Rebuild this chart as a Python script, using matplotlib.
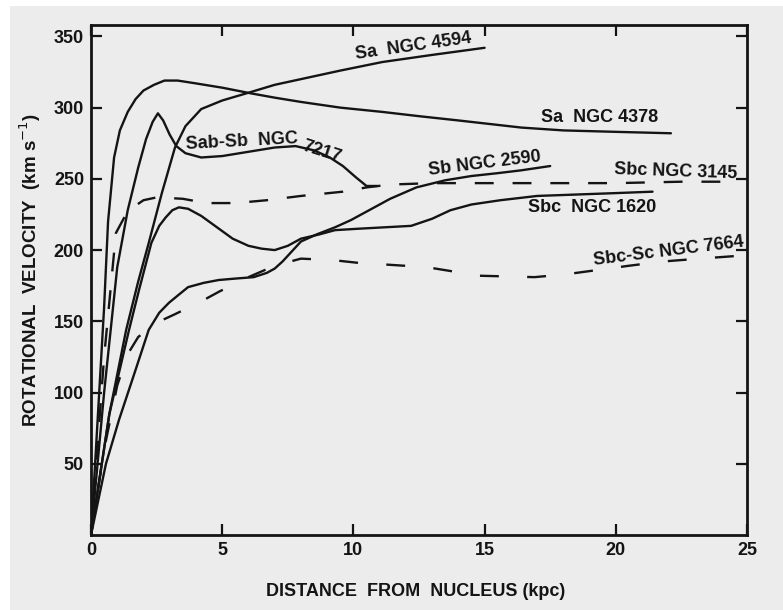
import matplotlib
matplotlib.use('Agg')
import matplotlib.pyplot as plt
from matplotlib.patches import Rectangle

# Rotation curves: radius (kpc) vs rotational velocity (km/s)
r_4378 = [0, 0.25, 0.5, 0.65, 0.88, 1.1, 1.4, 1.7, 2.0, 2.4, 2.8, 3.3, 4.0, 5.0, 6.1,
          7.0, 8.0, 9.5, 11.1, 12.5, 14.0, 16.4, 18.0, 20.0, 22.1]
v_4378 = [0, 80, 160, 220, 265, 284, 297, 306, 312, 316, 319, 319, 317, 314, 310,
          307, 304, 300, 297, 294, 291, 286, 284, 283, 282]

r_4594 = [0, 0.7, 1.34, 1.8, 2.2, 2.7, 3.2, 3.6, 4.2, 5.0, 6.1, 7.0, 8.0, 9.5, 11.1, 13.0, 15.0]
v_4594 = [0, 85, 144, 178, 205, 240, 272, 287, 299, 305, 311, 316, 320, 326, 332, 337, 342]

r_7217 = [0, 0.5, 1.0, 1.4, 1.8, 2.1, 2.35, 2.55, 2.75, 3.0, 3.25, 3.6, 4.2, 5.0, 6.0,
          7.0, 7.8, 8.5, 9.1, 9.6, 10.1, 10.5, 10.9]
v_7217 = [0, 100, 188, 228, 258, 278, 290, 296, 291, 281, 273, 268, 265, 266, 269,
          272, 273, 270, 265, 259, 251, 245, 245]

r_3145 = [0, 0.5, 0.95, 1.3, 1.6, 2.0, 2.5, 3.5, 4.4, 5.5, 6.7, 8.0, 9.6, 10.5, 11.4,
          13.0, 15.0, 17.5, 20.0, 22.5, 24.7]
v_3145 = [0, 125, 212, 224, 230, 235, 237, 236, 233, 233, 235, 238, 241, 244, 246,
          247, 247, 247, 247, 248, 248]

r_2590 = [0, 0.57, 1.07, 1.7, 2.2, 2.6, 2.97, 3.3, 3.7, 4.3, 4.87, 5.5, 6.2, 6.7, 7.0,
          7.3, 7.6, 8.0, 8.6, 9.3, 9.9, 10.6, 11.4, 12.4, 13.5, 14.5, 15.5, 16.4, 17.5]
v_2590 = [0, 50, 81, 116, 144, 156, 163, 168, 174, 177, 179, 180, 181, 184, 187,
          192, 198, 206, 211, 216, 221, 228, 236, 244, 249, 252, 254, 256, 259]

r_1620 = [0, 0.7, 1.45, 1.83, 2.3, 2.6, 2.85, 3.1, 3.35, 3.7, 4.2, 4.8, 5.4, 6.0, 6.5,
          7.0, 7.5, 8.0, 8.7, 9.3, 10.2, 11.2, 12.2, 13.0, 13.7, 14.5, 15.6, 17.0,
          18.5, 20.0, 21.4]
v_1620 = [0, 85, 144, 172, 205, 217, 223, 228, 230, 229, 224, 216, 208, 203, 201,
          200, 203, 208, 211, 214, 215, 216, 217, 222, 228, 232, 235, 238,
          239, 240, 241]

r_7664 = [0, 0.5, 1.0, 1.4, 1.8, 2.5, 3.2, 4.2, 4.9, 6.0, 7.0, 8.0, 9.2, 10.2, 11.1,
          12.8, 14.8, 16.9, 18.1, 19.3, 20.5, 21.8, 23.2, 24.7]
v_7664 = [0, 60, 105, 127, 139, 149, 155, 164, 171, 181, 189, 194, 193, 191, 190,
          188, 182, 181, 183, 186, 189, 192, 194, 196]

x_ticks = [0, 5, 10, 15, 20, 25]
y_ticks = [50, 100, 150, 200, 250, 300, 350]

BG = '#ececec'
INK = '#141414'
FONT = 'Liberation Sans'

fig = plt.figure(figsize=(7.83, 6.10), dpi=100, facecolor='white')
# grey scan area, white strip on top and left
fig.patches.append(Rectangle((10 / 783, 0), 1, 1 - 6 / 610, transform=fig.transFigure,
                             facecolor=BG, edgecolor='none', zorder=-10))

ax = fig.add_axes([91 / 783, 75 / 610, 656 / 783, 510 / 610])
ax.set_facecolor(BG)

solid = dict(color=INK, lw=1.7, solid_capstyle='round')
ax.plot(r_4378, v_4378, **solid)
ax.plot(r_4594, v_4594, **solid)
ax.plot(r_7217, v_7217, **solid)
ax.plot(r_2590, v_2590, **solid)
ax.plot(r_1620, v_1620, **solid)
ax.plot(r_3145, v_3145, color=INK, lw=1.7, ls=(0, (8, 8)))
ax.plot(r_7664, v_7664, color=INK, lw=1.7, ls=(0, (8, 12)))

# curve labels (text, x, y, rotation)
labels = [
    ('Sa  NGC 4594', 12.3, 343, 8),
    ('Sa  NGC 4378', 19.4, 293, 0),
    ('Sab-Sb  NGC', 5.75, 276, 3),
    ('7217', 8.8, 269, -18),
    ('Sb NGC 2590', 15.0, 261, 7),
    ('Sbc NGC 3145', 22.3, 255, -2),
    ('Sbc  NGC 1620', 19.1, 230, 0),
    ('Sbc-Sc NGC 7664', 22.0, 199, 7),
]
for txt, x, y, rot in labels:
    ax.text(x, y, txt, ha='center', va='center', rotation=rot, fontsize=13,
            fontweight='bold', family=FONT, color=INK)

ax.set_xlim(0, 25)
ax.set_ylim(0, 358)
ax.set_xticks(x_ticks)
ax.set_yticks(y_ticks)
ax.tick_params(direction='in', length=8, width=1.6, color=INK,
               top=True, right=True, labelsize=13, pad=5, labelcolor=INK)
for lab in ax.get_xticklabels() + ax.get_yticklabels():
    lab.set_fontweight('bold')
    lab.set_family(FONT)
for sp in ax.spines.values():
    sp.set_linewidth(2.0)
    sp.set_color(INK)

ax.set_xlabel('DISTANCE  FROM  NUCLEUS (kpc)', fontsize=13, fontweight='bold',
              family=FONT, color=INK)
ax.set_ylabel('ROTATIONAL  VELOCITY  (km s$^{-1}$)', fontsize=13.5, fontweight='bold',
              family=FONT, color=INK)
ax.xaxis.set_label_coords(0.495, -0.095)
ax.yaxis.set_label_coords(-0.073, 0.52)

fig.savefig('out.png', dpi=100, facecolor=fig.get_facecolor())
